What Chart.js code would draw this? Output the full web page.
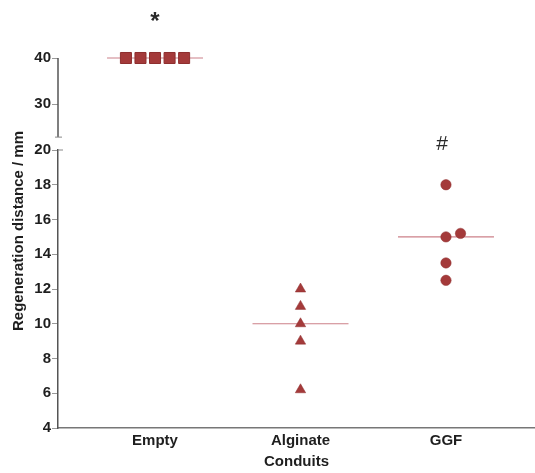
<!DOCTYPE html>
<html>
<head>
<meta charset="utf-8">
<script src="https://cdn.jsdelivr.net/npm/chart.js@4/dist/chart.umd.min.js"></script>
<style>
  html, body { margin: 0; padding: 0; background: #fff; }
  #wrap { width: 535px; height: 473px; position: relative; }
</style>
</head>
<body>
<div id="wrap"><canvas id="c"></canvas></div>
<script>
// Groups along the x axis
const groups = ['Empty', 'Alginate', 'GGF'];

// Regeneration distance (mm) for each conduit, with horizontal spread in category units
const emptyValues = [40, 40, 40, 40, 40];
const emptyJitter = [-0.2, -0.1, 0, 0.1, 0.2];
const alginateValues = [12, 11, 10, 9, 6.2];
const alginateJitter = [0, 0, 0, 0, 0];
const ggfValues = [18, 15, 15.2, 13.5, 12.5];
const ggfJitter = [0, 0, 0.1, 0, 0];

// Median of each group
const medians = [40, 10, 15];

// Significance marks above the groups
const significance = ['*', '', '#'];

// Tick values of the two axis segments
const lowerTicks = [4, 6, 8, 10, 12, 14, 16, 18, 20];
const upperTicks = [30, 40];

const markerColor = '#a43a3a';
const medianColor = '#cc8089';
const axisColor = '#555';
const textColor = '#1e1e1e';
const FONT = '"Liberation Sans", Arial, sans-serif';
const breakAt = 22.8;
const medianHalf = 0.33;

function points(values, jitter, groupIndex) {
  return values.map((v, i) => ({ x: groupIndex + 1 + jitter[i], y: v }));
}
function medianLine(groupIndex) {
  const c = groupIndex + 1;
  return [{ x: c - medianHalf, y: medians[groupIndex] }, { x: c + medianHalf, y: medians[groupIndex] }];
}
function medianDataset(groupIndex, axis) {
  return {
    data: medianLine(groupIndex), yAxisID: axis, showLine: true, pointRadius: 0,
    borderColor: medianColor, borderWidth: 1.2, order: 2, clip: false
  };
}

const decor = {
  id: 'decor',
  afterDraw(chart) {
    const { ctx, scales: { x, y, y2 }, chartArea } = chart;
    const ax = chartArea.left;
    ctx.save();
    // upper axis segment, ending at the break
    const t = y2.getPixelForValue(40), b = y2.getPixelForValue(breakAt);
    ctx.strokeStyle = axisColor;
    ctx.lineWidth = 1.5;
    ctx.beginPath();
    ctx.moveTo(ax, t);
    ctx.lineTo(ax, b);
    ctx.stroke();
    ctx.strokeStyle = '#888';
    ctx.lineWidth = 1;
    ctx.beginPath();
    ctx.moveTo(ax - 3, b);
    ctx.lineTo(ax + 4, b);
    const l20 = y.getPixelForValue(20);
    ctx.moveTo(ax, l20);
    ctx.lineTo(ax + 5, l20);
    ctx.stroke();

    // significance marks
    ctx.fillStyle = '#2a2a2a';
    ctx.textAlign = 'center';
    ctx.textBaseline = 'middle';
    significance.forEach((s, i) => {
      if (!s) return;
      if (i === 0) {
        ctx.font = 'bold 24px ' + FONT;
        ctx.fillText(s, x.getPixelForValue(1), y2.getPixelForValue(40) - 36);
      } else {
        ctx.font = '21px ' + FONT;
        ctx.fillText(s, x.getPixelForValue(i + 1) - 4, y.getPixelForValue(20) - 6);
      }
    });

    // y-axis title
    ctx.translate(19, (chartArea.top + chartArea.bottom) / 2 - 12);
    ctx.rotate(-Math.PI / 2);
    ctx.font = 'bold 15px ' + FONT;
    ctx.fillStyle = textColor;
    ctx.fillText('Regeneration distance / mm', 0, 0);
    ctx.restore();
  }
};

new Chart(document.getElementById('c'), {
  type: 'scatter',
  data: {
    datasets: [
      {
        data: points(emptyValues, emptyJitter, 0), yAxisID: 'y2',
        pointStyle: 'rect', pointRadius: 7.8, pointBorderWidth: 1,
        backgroundColor: markerColor, borderColor: '#8e2f2f', order: 0, clip: false
      },
      {
        data: points(alginateValues, alginateJitter, 1), yAxisID: 'y',
        pointStyle: 'triangle', pointRadius: 6, pointBorderWidth: 0.5,
        backgroundColor: markerColor, borderColor: '#8e2f2f', order: 0, clip: false
      },
      {
        data: points(ggfValues, ggfJitter, 2), yAxisID: 'y',
        pointStyle: 'circle', pointRadius: 5.2, pointBorderWidth: 0.5,
        backgroundColor: markerColor, borderColor: '#8e2f2f', order: 0, clip: false
      },
      medianDataset(0, 'y2'),
      medianDataset(1, 'y'),
      medianDataset(2, 'y')
    ]
  },
  options: {
    responsive: true,
    maintainAspectRatio: false,
    animation: false,
    events: [],
    layout: { autoPadding: false, padding: { top: 58, left: 0, right: 0, bottom: 0 } },
    plugins: { legend: { display: false }, tooltip: { enabled: false } },
    scales: {
      x: {
        type: 'linear', min: 0.333, max: 3.612,
        afterBuildTicks: s => { s.ticks = groups.map((g, i) => ({ value: i + 1 })); },
        afterFit: s => { s.height = 45; },
        ticks: {
          callback: v => groups[v - 1] || '',
          font: { family: FONT, size: 15, weight: 'bold' }, color: textColor, padding: 4,
          maxRotation: 0, autoSkip: false
        },
        grid: { drawOnChartArea: false, drawTicks: false },
        border: { color: '#777', width: 1.5 },
        title: {
          display: true, text: 'Conduits', color: textColor,
          font: { family: FONT, size: 15, weight: 'bold' }, padding: { top: 0, bottom: 2 }
        }
      },
      y2: {
        type: 'linear', position: 'left', stack: 'yaxis', stackWeight: 92, weight: 2,
        min: 20, max: 40,
        afterBuildTicks: s => { s.ticks = upperTicks.map(v => ({ value: v })); },
        afterFit: s => { s.width = 58; },
        ticks: { font: { family: FONT, size: 15, weight: 'bold' }, color: textColor, padding: 1, autoSkip: false },
        grid: { drawOnChartArea: false, tickLength: 6, tickColor: '#999', tickWidth: 1 },
        border: { display: false }
      },
      y: {
        type: 'linear', position: 'left', stack: 'yaxis', stackWeight: 278, weight: 1,
        min: 4, max: 20,
        afterBuildTicks: s => { s.ticks = lowerTicks.map(v => ({ value: v })); },
        afterFit: s => { s.width = 58; },
        ticks: { font: { family: FONT, size: 15, weight: 'bold' }, color: textColor, padding: 1, autoSkip: false },
        grid: { drawOnChartArea: false, tickLength: 6, tickColor: '#999', tickWidth: 1 },
        border: { color: axisColor, width: 1.5 }
      }
    }
  },
  plugins: [decor]
});
</script>
</body>
</html>
